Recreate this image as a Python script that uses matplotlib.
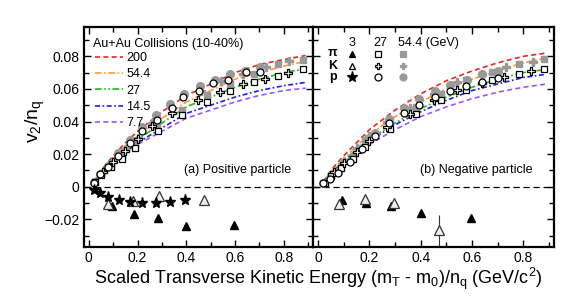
import numpy as np
import matplotlib
matplotlib.use("Agg")
import matplotlib.pyplot as plt
from matplotlib.ticker import MultipleLocator, FuncFormatter

plt.rcParams['font.family'] = ['Liberation Sans', 'DejaVu Sans']
plt.rcParams['mathtext.fontset'] = 'custom'
plt.rcParams['mathtext.rm'] = 'Liberation Sans'
plt.rcParams['mathtext.it'] = 'Liberation Sans'

# ---- fit curves ----
curve_x = [0.02, 0.05, 0.1, 0.15, 0.2, 0.3, 0.4, 0.5, 0.6, 0.7, 0.8, 0.89]
energies = ["200", "54.4", "27", "14.5", "7.7"]
curves_pos = {
    "200":  [0.003, 0.010, 0.019, 0.027, 0.034, 0.046, 0.056, 0.063, 0.070, 0.075, 0.078, 0.0805],
    "54.4": [0.003, 0.009, 0.017, 0.025, 0.031, 0.042, 0.052, 0.059, 0.066, 0.070, 0.074, 0.077],
    "27":   [0.003, 0.008, 0.016, 0.023, 0.029, 0.039, 0.049, 0.055, 0.061, 0.066, 0.070, 0.0724],
    "14.5": [0.003, 0.008, 0.015, 0.021, 0.027, 0.036, 0.045, 0.050, 0.055, 0.059, 0.062, 0.064],
    "7.7":  [0.003, 0.007, 0.014, 0.020, 0.026, 0.034, 0.042, 0.047, 0.052, 0.056, 0.059, 0.0605],
}
curves_neg = {
    "200":  [0.003, 0.010, 0.019, 0.027, 0.035, 0.047, 0.057, 0.065, 0.071, 0.076, 0.080, 0.082],
    "54.4": [0.003, 0.009, 0.017, 0.025, 0.032, 0.043, 0.052, 0.060, 0.066, 0.071, 0.076, 0.079],
    "27":   [0.003, 0.008, 0.016, 0.023, 0.029, 0.039, 0.048, 0.055, 0.061, 0.066, 0.070, 0.072],
    "14.5": [0.003, 0.008, 0.015, 0.022, 0.028, 0.038, 0.046, 0.053, 0.059, 0.063, 0.067, 0.069],
    "7.7":  [0.003, 0.007, 0.014, 0.020, 0.026, 0.035, 0.043, 0.049, 0.054, 0.058, 0.061, 0.063],
}
curve_colors = {"200": "#e8281e", "54.4": "#ff9a30", "27": "#1cb81c", "14.5": "#1f1fe0", "7.7": "#9955ff"}
curve_styles = {"200": (0, (3, 2)), "54.4": (0, (4, 1.5, 1, 1.5)), "27": (0, (4, 1.5, 1, 1.5, 1, 1.5)),
                "14.5": (0, (3, 1.5, 1, 1.5)), "7.7": (0, (3, 2))}

# ---- positive particles ----
pip3_x = [0.093, 0.184, 0.283, 0.399, 0.596]
pip3_y = [-0.0119, -0.0170, -0.0193, -0.0244, -0.0237]
kp3_x = [0.078, 0.180, 0.286, 0.474]
kp3_y = [-0.0109, -0.0088, -0.0058, -0.0084]
p3_x = [0.022, 0.044, 0.080, 0.122, 0.170, 0.220, 0.274, 0.333, 0.393]
p3_y = [-0.0020, -0.0040, -0.0061, -0.0082, -0.0096, -0.0102, -0.0102, -0.0095, -0.0080]

pip27_x = [0.025, 0.05, 0.09, 0.135, 0.19, 0.285, 0.381, 0.483, 0.578, 0.678, 0.776, 0.878]
pip27_y = [0.003, 0.007, 0.012, 0.017, 0.024, 0.034, 0.044, 0.052, 0.059, 0.064, 0.068, 0.072]
kp27_x = [0.06, 0.10, 0.15, 0.20, 0.26, 0.34, 0.447, 0.538, 0.633, 0.725, 0.816]
kp27_y = [0.009, 0.015, 0.022, 0.029, 0.037, 0.045, 0.053, 0.058, 0.063, 0.066, 0.070]
p27_x = [0.02, 0.045, 0.078, 0.12, 0.17, 0.22, 0.28, 0.34, 0.388, 0.45, 0.51, 0.571, 0.644, 0.701]
p27_y = [0.0025, 0.0075, 0.0122, 0.019, 0.027, 0.034, 0.041, 0.048, 0.055, 0.059, 0.0637, 0.0656, 0.0703, 0.0703]

pip54_x = [0.025, 0.05, 0.09, 0.135, 0.19, 0.28, 0.381, 0.483, 0.578, 0.676, 0.776, 0.878]
pip54_y = [0.003, 0.0075, 0.0125, 0.018, 0.026, 0.037, 0.047, 0.056, 0.063, 0.069, 0.075, 0.078]
kp54_x = [0.06, 0.10, 0.15, 0.20, 0.26, 0.34, 0.46, 0.544, 0.633, 0.728, 0.823]
kp54_y = [0.009, 0.016, 0.023, 0.030, 0.039, 0.048, 0.059, 0.0646, 0.069, 0.0734, 0.0771]
p54_x = [0.023, 0.045, 0.077, 0.120, 0.167, 0.220, 0.276, 0.333, 0.390, 0.456, 0.517, 0.578, 0.640, 0.701]
p54_y = [0.0028, 0.008, 0.0128, 0.0204, 0.0288, 0.0366, 0.0437, 0.0505, 0.0571, 0.0621, 0.0652, 0.0689, 0.0709, 0.0734]

# ---- negative particles ----
pim3_x = [0.092, 0.187, 0.284, 0.402, 0.598]
pim3_y = [-0.0080, -0.0098, -0.0119, -0.0160, -0.0194]
km3_x = [0.082, 0.183, 0.294, 0.471]
km3_y = [-0.0104, -0.0074, -0.0098, -0.0268]
km3_err = [0.0008, 0.0008, 0.0010, 0.0095]

pim27_x = [0.025, 0.05, 0.09, 0.135, 0.183, 0.281, 0.383, 0.480, 0.578, 0.680, 0.782, 0.882]
pim27_y = [0.0025, 0.0065, 0.0115, 0.017, 0.0243, 0.0356, 0.0448, 0.0529, 0.0595, 0.0652, 0.0689, 0.072]
km27_x = [0.06, 0.10, 0.15, 0.20, 0.268, 0.36, 0.451, 0.543, 0.641, 0.725, 0.83]
km27_y = [0.009, 0.0145, 0.0215, 0.028, 0.0366, 0.0448, 0.0529, 0.0591, 0.0636, 0.0672, 0.0713]
pbar27_x = [0.02, 0.045, 0.078, 0.124, 0.173, 0.222, 0.276, 0.333, 0.392, 0.454, 0.514, 0.578, 0.638, 0.70]
pbar27_y = [0.002, 0.005, 0.0085, 0.015, 0.023, 0.031, 0.039, 0.045, 0.050, 0.055, 0.059, 0.062, 0.064, 0.067]

pim54_x = [0.025, 0.05, 0.09, 0.135, 0.183, 0.281, 0.383, 0.48, 0.578, 0.68, 0.784, 0.882]
pim54_y = [0.0025, 0.007, 0.0125, 0.019, 0.0284, 0.0407, 0.0488, 0.057, 0.0652, 0.0703, 0.075, 0.0781]
km54_x = [0.06, 0.10, 0.15, 0.20, 0.268, 0.36, 0.451, 0.543, 0.641, 0.732, 0.837]
km54_y = [0.009, 0.016, 0.024, 0.031, 0.040, 0.048, 0.057, 0.0642, 0.069, 0.0734, 0.0765]
pbar54_x = [0.02, 0.045, 0.078, 0.124, 0.173, 0.222, 0.276, 0.333, 0.392, 0.454, 0.516, 0.582, 0.641, 0.70]
pbar54_y = [0.002, 0.0055, 0.009, 0.016, 0.024, 0.033, 0.0417, 0.048, 0.054, 0.0587, 0.0626, 0.0656, 0.0689, 0.0709]

GRAY = "#999999"
ms = 5

fig = plt.figure(figsize=(5.81, 3.05), dpi=100)
W, H = 581, 305
axL = fig.add_axes([84 / W, 1 - 247 / H, (313 - 84) / W, (247 - 27) / H])
axR = fig.add_axes([313 / W, 1 - 247 / H, (554 - 313) / W, (247 - 27) / H])


def style(ax, ylabels):
    ax.set_xlim(-0.02, 0.92)
    ax.set_ylim(-0.037, 0.098)
    ax.xaxis.set_major_locator(MultipleLocator(0.2))
    ax.xaxis.set_minor_locator(MultipleLocator(0.1))
    ax.yaxis.set_major_locator(MultipleLocator(0.02))
    ax.yaxis.set_minor_locator(MultipleLocator(0.01))
    fmt = FuncFormatter(lambda v, p: "0" if abs(v) < 1e-9 else ("%.1f" % v))
    ax.xaxis.set_major_formatter(fmt)
    ax.yaxis.set_major_formatter(FuncFormatter(
        lambda v, p: "0" if abs(v) < 1e-9 else ("%.2f" % v).replace("-", "\u2212")))
    ax.tick_params(which="both", direction="in", top=True, right=True, labelsize=10, width=1)
    ax.tick_params(which="major", length=5)
    ax.tick_params(which="minor", length=3.5)
    ax.tick_params(axis="x", pad=3)
    if not ylabels:
        ax.tick_params(labelleft=False)
    for s in ax.spines.values():
        s.set_linewidth(1.6)
    ax.axhline(0, color="black", ls=(0, (5, 3)), lw=0.9, zorder=1)


def draw_curves(ax, curves):
    for e in energies:
        ax.plot(curve_x, curves[e], color=curve_colors[e], ls=curve_styles[e], lw=1.2, zorder=2, label=e)


def draw_points(ax, pi3, k3, p3, pi27, k27, p27, pi54, k54, p54, kerr=None):
    # 54.4 GeV grey filled
    ax.plot(*pi54, 's', color=GRAY, ms=ms, mec=GRAY, zorder=3)
    ax.plot(*k54, 'P', color=GRAY, ms=ms + 1, mec=GRAY, zorder=3)
    ax.plot(*p54, 'o', color=GRAY, ms=ms + 0.5, mec=GRAY, zorder=3)
    # 27 GeV open
    ax.plot(*pi27, 's', mfc="white", mec="black", ms=ms, mew=0.9, zorder=4)
    ax.plot(*k27, 'P', mfc="white", mec="black", ms=ms + 1, mew=0.9, zorder=4)
    ax.plot(*p27, 'o', mfc="white", mec="black", ms=ms, mew=0.9, zorder=4)
    # 3 GeV
    ax.plot(*pi3, '^', color="black", ms=ms + 0.5, zorder=5)
    if kerr is not None:
        ax.errorbar(k3[0], k3[1], yerr=kerr, fmt='^', mfc="#eeeeee", mec="#333333",
                    ecolor="#333333", elinewidth=0.8, capsize=0, ms=ms + 1.5, mew=0.9, zorder=5)
    else:
        ax.plot(*k3, '^', mfc="#eeeeee", mec="#333333", ms=ms + 1.5, mew=0.9, zorder=5)
    if p3 is not None:
        ax.plot(*p3, '*', color="black", ms=ms + 3, zorder=5)


style(axL, True)
style(axR, False)
draw_curves(axL, curves_pos)
draw_curves(axR, curves_neg)
draw_points(axL, (pip3_x, pip3_y), (kp3_x, kp3_y), (p3_x, p3_y),
            (pip27_x, pip27_y), (kp27_x, kp27_y), (p27_x, p27_y),
            (pip54_x, pip54_y), (kp54_x, kp54_y), (p54_x, p54_y))
draw_points(axR, (pim3_x, pim3_y), (km3_x, km3_y), None,
            (pim27_x, pim27_y), (km27_x, km27_y), (pbar27_x, pbar27_y),
            (pim54_x, pim54_y), (km54_x, km54_y), (pbar54_x, pbar54_y), kerr=km3_err)

# left legend (energies)
fig.text(93 / W, 1 - 44 / H, "Au+Au Collisions (10-40%)", fontsize=9, va="center", ha="left")
axL.legend(loc="upper left", bbox_to_anchor=((95 - 84) / (313 - 84), 1 - (52 - 27) / 220),
           frameon=False, fontsize=9, handlelength=2.2, handletextpad=0.3,
           labelspacing=0.35, borderaxespad=0, borderpad=0.0)

# right legend (particles x energies)
hdr_y = 1 - 43 / H
for lab, px in [("3", 352), ("27", 380), ("54.4 (GeV)", 398)]:
    fig.text(px / W, hdr_y, lab, fontsize=9, ha="center" if lab != "54.4 (GeV)" else "left", va="center")
rows = [("\u03c0", 53.5), ("K", 66), ("p", 77.5)]
for lab, py in rows:
    fig.text(333 / W, 1 - py / H, lab, fontsize=9, fontweight="bold", ha="center", va="center")
mk = [[('^', "black", "black"), ('s', "white", "black"), ('s', GRAY, GRAY)],
      [('^', "white", "black"), ('P', "white", "black"), ('P', GRAY, GRAY)],
      [('*', "black", "black"), ('o', "white", "black"), ('o', GRAY, GRAY)]]
for (lab, py), row in zip(rows, mk):
    for (m, fc, ec), px in zip(row, [352.3, 378.3, 403.3]):
        size = ms + 3 if m == '*' else ms
        fig.lines.append(plt.Line2D([px / W], [1 - py / H], marker=m, mfc=fc, mec=ec, ms=size,
                                    mew=0.9, ls="none", transform=fig.transFigure))

fig.text(291 / W, 1 - 170 / H, "(a) Positive particle", fontsize=9, ha="right", va="center")
fig.text(532 / W, 1 - 170 / H, "(b) Negative particle", fontsize=9, ha="right", va="center")

fig.text(35 / W, 1 - 121 / H, r"v$_2$/n$_q$", rotation=90, fontsize=14, ha="center", va="center")
fig.text(318 / W, 1 - 279 / H, r"Scaled Transverse Kinetic Energy (m$_T$ - m$_0$)/n$_q$ (GeV/c$^2$)",
         fontsize=13, ha="center", va="center")

fig.savefig("out.png", dpi=100)
